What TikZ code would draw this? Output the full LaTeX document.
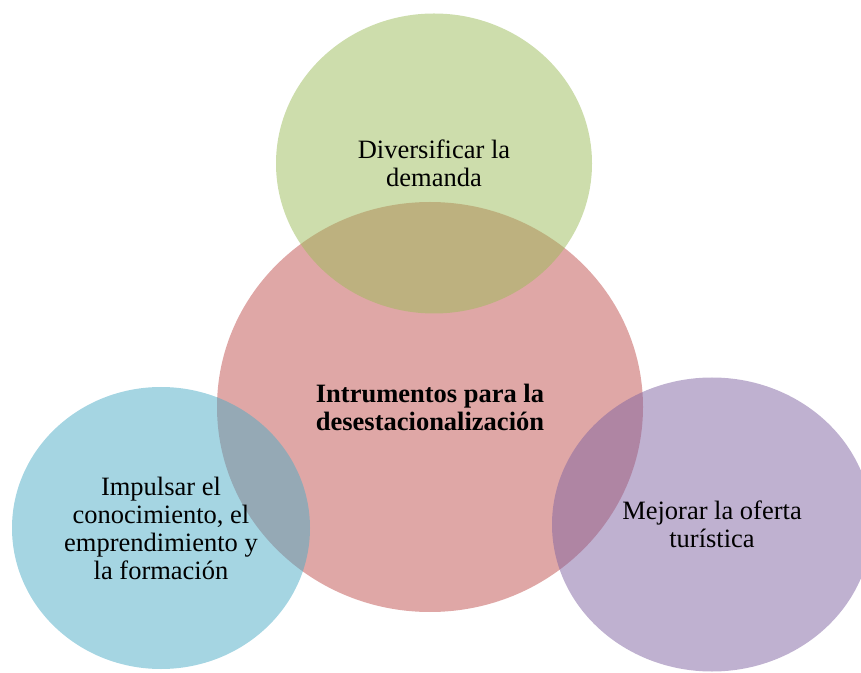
\documentclass[tikz,border=0pt]{standalone}
\usepackage{fontspec}
\setmainfont{Liberation Serif}
\usetikzlibrary{shapes.geometric}

\definecolor{vennred}{HTML}{C0504D}
\definecolor{venngreen}{HTML}{9BBB59}
\definecolor{vennblue}{HTML}{4BACC6}
\definecolor{vennpurple}{HTML}{8064A2}

\begin{document}
\begin{tikzpicture}[
  x=1pt, y=1pt,
  every node/.style={font=\fontsize{26.5}{28}\selectfont},
  bubble/.style={ellipse, inner sep=0pt, fill opacity=0.5, text opacity=1, align=center}
]
\useasboundingbox (0,0) rectangle (861,672);

% Central circle
\node[bubble, fill=vennred, minimum width=426pt, minimum height=410pt,
      font=\fontsize{26.5}{28}\selectfont\bfseries] (core) at (430,265)
  {Intrumentos para la\\ desestacionalización};

% Outer circles
\node[bubble, fill=venngreen, minimum width=316pt, minimum height=300pt] (demand) at (434,508.5)
  {Diversificar la\\ demanda};
\node[bubble, fill=vennblue, minimum width=298pt, minimum height=282pt] (skills) at (161,144)
  {Impulsar el\\ conocimiento, el\\ emprendimiento y\\ la formación};
\node[bubble, fill=vennpurple, minimum width=320pt, minimum height=294pt] (offer) at (712,147.5)
  {Mejorar la oferta\\ turística};

\end{tikzpicture}
\end{document}
